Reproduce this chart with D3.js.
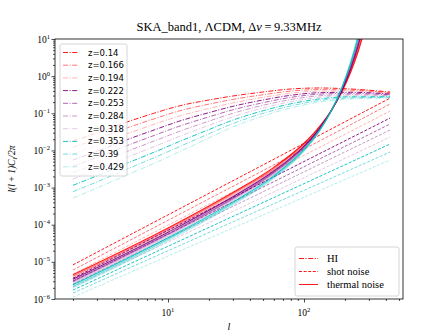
<!DOCTYPE html>
<html>
<head>
<meta charset="utf-8">
<script src="https://cdn.jsdelivr.net/npm/d3@7"></script>
<style>
  body { margin: 0; background: #fff; }
  text { fill: #000; }
</style>
</head>
<body>
<div id="chart"></div>
<script>
// redshift bins and their colours
var redshifts = ["0.14", "0.166", "0.194", "0.222", "0.253", "0.284", "0.318", "0.353", "0.39", "0.429"];
var seriesColors = [
  "rgba(255,0,0,0.9)", "rgba(255,0,0,0.55)", "rgba(255,0,0,0.3)",
  "rgba(128,0,128,0.9)", "rgba(128,0,128,0.6)", "rgba(128,0,128,0.4)", "rgba(128,0,128,0.22)",
  "rgba(0,191,191,0.9)", "rgba(0,191,191,0.55)", "rgba(0,191,191,0.3)"
];

// multipoles
var ellHI = [2, 3, 5, 8, 12, 20, 30, 50, 80, 130, 220, 430];
var ellShot = [2, 430];
var ellNoise = [2, 10, 30, 60, 100, 130, 160, 190, 220, 250, 280];

// HI signal l(l+1)C_l/2pi, one row per redshift
var hiValues = [
  [0.0179, 0.0294, 0.0582, 0.102, 0.157, 0.228, 0.292, 0.374, 0.451, 0.480, 0.451, 0.374],
  [0.0121, 0.0202, 0.0404, 0.0719, 0.115, 0.176, 0.237, 0.316, 0.396, 0.434, 0.421, 0.358],
  [0.00816, 0.0138, 0.0280, 0.0512, 0.0834, 0.135, 0.190, 0.269, 0.347, 0.396, 0.393, 0.345],
  [0.00552, 0.00946, 0.0195, 0.0361, 0.0608, 0.104, 0.154, 0.228, 0.305, 0.358, 0.367, 0.330],
  [0.00373, 0.00649, 0.0135, 0.0257, 0.0444, 0.0800, 0.124, 0.193, 0.268, 0.327, 0.343, 0.316],
  [0.00251, 0.00442, 0.00941, 0.0182, 0.0321, 0.0615, 0.100, 0.164, 0.234, 0.296, 0.318, 0.305],
  [0.00170, 0.00303, 0.00653, 0.0129, 0.0234, 0.0475, 0.0809, 0.139, 0.205, 0.269, 0.297, 0.292],
  [0.00115, 0.00207, 0.00453, 0.00912, 0.0171, 0.0364, 0.0655, 0.117, 0.180, 0.244, 0.278, 0.279],
  [0.000774, 0.00142, 0.00314, 0.00649, 0.0124, 0.0280, 0.0527, 0.0998, 0.158, 0.222, 0.259, 0.269],
  [0.000524, 0.000973, 0.00218, 0.00458, 0.00906, 0.0216, 0.0428, 0.0845, 0.139, 0.201, 0.242, 0.258]
];

// shot noise
var shotValues = [
  [8.3e-6, 0.257],
  [6.0e-6, 0.178],
  [4.7e-6, 0.115],
  [3.6e-6, 0.0746],
  [3.0e-6, 0.0514],
  [2.5e-6, 0.0355],
  [2.1e-6, 0.0230],
  [1.74e-6, 0.0149],
  [1.45e-6, 0.00906],
  [1.12e-6, 0.00552]
];

// thermal noise
var noiseValues = [
  [4.5e-6, 8.2e-5, 7.4e-4, 3.5e-3, 1.56e-2, 4.4e-2, 0.125, 0.38, 1.25, 4.54, 18.2],
  [4.07e-6, 7.5e-5, 6.8e-4, 3.27e-3, 1.48e-2, 4.23e-2, 0.124, 0.393, 1.35, 5.13, 21.8],
  [3.72e-6, 6.85e-5, 6.18e-4, 3.02e-3, 1.39e-2, 4.06e-2, 0.123, 0.403, 1.44, 5.73, 25.6],
  [3.39e-6, 6.27e-5, 5.66e-4, 2.79e-3, 1.31e-2, 3.94e-2, 0.123, 0.416, 1.55, 6.49, 30.6],
  [3.09e-6, 5.71e-5, 5.18e-4, 2.58e-3, 1.24e-2, 3.80e-2, 0.122, 0.430, 1.67, 7.33, 36.6],
  [2.88e-6, 5.33e-5, 4.84e-4, 2.43e-3, 1.19e-2, 3.75e-2, 0.124, 0.451, 1.82, 8.38, 44.0],
  [2.63e-6, 4.86e-5, 4.44e-4, 2.24e-3, 1.13e-2, 3.62e-2, 0.124, 0.466, 1.97, 9.48, 52.6],
  [2.40e-6, 4.44e-5, 4.06e-4, 2.07e-3, 1.06e-2, 3.50e-2, 0.123, 0.481, 2.12, 10.7, 63.0],
  [2.19e-6, 4.05e-5, 3.71e-4, 1.91e-3, 1.00e-2, 3.37e-2, 0.122, 0.492, 2.26, 12.0, 73.8],
  [2.00e-6, 3.70e-5, 3.40e-4, 1.77e-3, 9.46e-3, 3.27e-2, 0.122, 0.509, 2.44, 13.6, 88.3]
];

var xMajor = [10, 100];
var yMajor = [1e-6, 1e-5, 1e-4, 1e-3, 1e-2, 1e-1, 1, 10];
var legendLabels = ["HI", "shot noise", "thermal noise"];

var svgWidth = 448;
var svgHeight = 336;
var margin = { top: 39, right: 45, bottom: 37, left: 55 };
var width = svgWidth - margin.left - margin.right;
var height = svgHeight - margin.top - margin.bottom;

var serif = "'Liberation Serif', 'DejaVu Serif', serif";
var sans = "'DejaVu Sans', sans-serif";

var svg = d3.select("#chart").append("svg")
  .attr("width", svgWidth)
  .attr("height", svgHeight);

var chartGroup = svg.append("g")
  .attr("transform", `translate(${margin.left}, ${margin.top})`);

var xScale = d3.scaleLog().domain([1.476, 534.6]).range([0, width]);
var yScale = d3.scaleLog().domain([1e-6, 10]).range([height, 0]);

chartGroup.append("clipPath").attr("id", "plotclip")
  .append("rect").attr("width", width).attr("height", height);

// minor tick values
var xMinor = [];
[1, 10, 100].forEach(function(d) {
  for (var k = 2; k <= 9; k++) {
    var v = d * k;
    if (v > xScale.domain()[0] && v < xScale.domain()[1]) xMinor.push(v);
  }
});
var yMinor = [];
yMajor.slice(0, -1).forEach(function(d) {
  for (var k = 2; k <= 9; k++) yMinor.push(d * k);
});

// axes
var xAxisG = chartGroup.append("g").attr("transform", `translate(0, ${height})`);
xAxisG.append("g").call(d3.axisBottom(xScale).tickValues(xMajor).tickSize(3.5).tickFormat(""));
xAxisG.append("g").call(d3.axisBottom(xScale).tickValues(xMinor).tickSize(2).tickFormat(""));
var yAxisG = chartGroup.append("g");
yAxisG.append("g").call(d3.axisLeft(yScale).tickValues(yMajor).tickSize(3.5).tickFormat(""));
yAxisG.append("g").call(d3.axisLeft(yScale).tickValues(yMinor).tickSize(2).tickFormat(""));
chartGroup.selectAll(".domain").remove();
chartGroup.selectAll(".tick line").attr("stroke", "#000").attr("stroke-width", 0.7);

// tick labels with exponents
xAxisG.selectAll(null).data(xMajor).enter().append("text")
  .attr("x", d => xScale(d))
  .attr("y", 17)
  .attr("text-anchor", "middle")
  .attr("font-family", serif)
  .attr("font-size", 9.5)
  .each(function(d) {
    var t = d3.select(this);
    t.append("tspan").text("10");
    t.append("tspan").attr("dy", -4).attr("font-size", 6.5).text(Math.round(Math.log10(d)));
  });

yAxisG.selectAll(null).data(yMajor).enter().append("text")
  .attr("x", -5)
  .attr("y", d => yScale(d) + 3.5)
  .attr("text-anchor", "end")
  .attr("font-family", serif)
  .attr("font-size", 9.5)
  .each(function(d) {
    var t = d3.select(this);
    var e = Math.round(Math.log10(d));
    t.append("tspan").text("10");
    t.append("tspan").attr("dy", -4).attr("font-size", 6.5).text(e < 0 ? "\u2212" + (-e) : e);
  });

// lines
var plotArea = chartGroup.append("g").attr("clip-path", "url(#plotclip)");
function makeLine(ells) {
  return d3.line()
    .x((d, i) => xScale(ells[i]))
    .y(d => yScale(d))
    .curve(d3.curveMonotoneX);
}
var hiLine = makeLine(ellHI);
var shotLine = makeLine(ellShot);
var noiseLine = makeLine(ellNoise);

redshifts.forEach(function(z, i) {
  plotArea.append("path").attr("d", hiLine(hiValues[i]))
    .attr("fill", "none").attr("stroke", seriesColors[i]).attr("stroke-width", 1)
    .attr("stroke-dasharray", "5,1.6,1,1.6");
  plotArea.append("path").attr("d", shotLine(shotValues[i]))
    .attr("fill", "none").attr("stroke", seriesColors[i]).attr("stroke-width", 1)
    .attr("stroke-dasharray", "3,1.6");
  plotArea.append("path").attr("d", noiseLine(noiseValues[i]))
    .attr("fill", "none").attr("stroke", seriesColors[i]).attr("stroke-width", 1.1);
});

// frame
chartGroup.append("rect")
  .attr("width", width).attr("height", height)
  .attr("fill", "none").attr("stroke", "#000").attr("stroke-width", 0.8);

// redshift legend
var legend1 = chartGroup.append("g").attr("transform", "translate(5, 5)");
legend1.append("rect")
  .attr("width", 67).attr("height", 132).attr("rx", 2)
  .attr("fill", "rgba(255,255,255,0.8)").attr("stroke", "#ccc").attr("stroke-width", 0.8);
redshifts.forEach(function(z, i) {
  var yy = 8.5 + i * 12.7;
  legend1.append("line")
    .attr("x1", 3).attr("x2", 18).attr("y1", yy).attr("y2", yy)
    .attr("stroke", seriesColors[i]).attr("stroke-width", 1)
    .attr("stroke-dasharray", "5,1.6,1,1.6");
  legend1.append("text")
    .attr("x", 28).attr("y", yy + 3)
    .attr("font-family", sans).attr("font-size", 8.5)
    .text("z=" + z);
});

// line-type legend
var legend2 = chartGroup.append("g").attr("transform", `translate(${width - 108}, ${height - 52})`);
legend2.append("rect")
  .attr("width", 104).attr("height", 49).attr("rx", 2)
  .attr("fill", "rgba(255,255,255,0.8)").attr("stroke", "#ccc").attr("stroke-width", 0.8);
var dashes = ["5,1.6,1,1.6", "3,1.6", null];
legendLabels.forEach(function(lab, i) {
  var yy = 11.5 + i * 13;
  legend2.append("line")
    .attr("x1", 4).attr("x2", 23).attr("y1", yy).attr("y2", yy)
    .attr("stroke", "rgba(255,0,0,0.9)").attr("stroke-width", 1)
    .attr("stroke-dasharray", dashes[i]);
  legend2.append("text")
    .attr("x", 32).attr("y", yy + 3.5)
    .attr("font-family", serif).attr("font-size", 10.5)
    .text(lab);
});

// axis titles
chartGroup.append("text")
  .attr("x", width / 2).attr("y", height + 31)
  .attr("text-anchor", "middle")
  .attr("font-family", serif).attr("font-style", "italic").attr("font-size", 10)
  .text("l");

var yTitle = chartGroup.append("text")
  .attr("transform", `translate(-40, ${height / 2}) rotate(-90)`)
  .attr("text-anchor", "middle")
  .attr("font-family", serif).attr("font-style", "italic").attr("font-size", 9.5);
yTitle.append("tspan").text("l(l\u2009+\u20091)C");
yTitle.append("tspan").attr("dy", 2).attr("font-size", 7).text("l");
yTitle.append("tspan").attr("dy", -2).text("/2\u03c0");

// title
var title = svg.append("text")
  .attr("x", margin.left + width / 2).attr("y", 31)
  .attr("text-anchor", "middle")
  .attr("font-family", serif).attr("font-size", 12.5);
title.append("tspan").text("SKA_band1, \u039bCDM, \u0394");
title.append("tspan").attr("font-style", "italic").text("\u03bd");
title.append("tspan").text("\u2009=\u20099.33MHz");
</script>
</body>
</html>
